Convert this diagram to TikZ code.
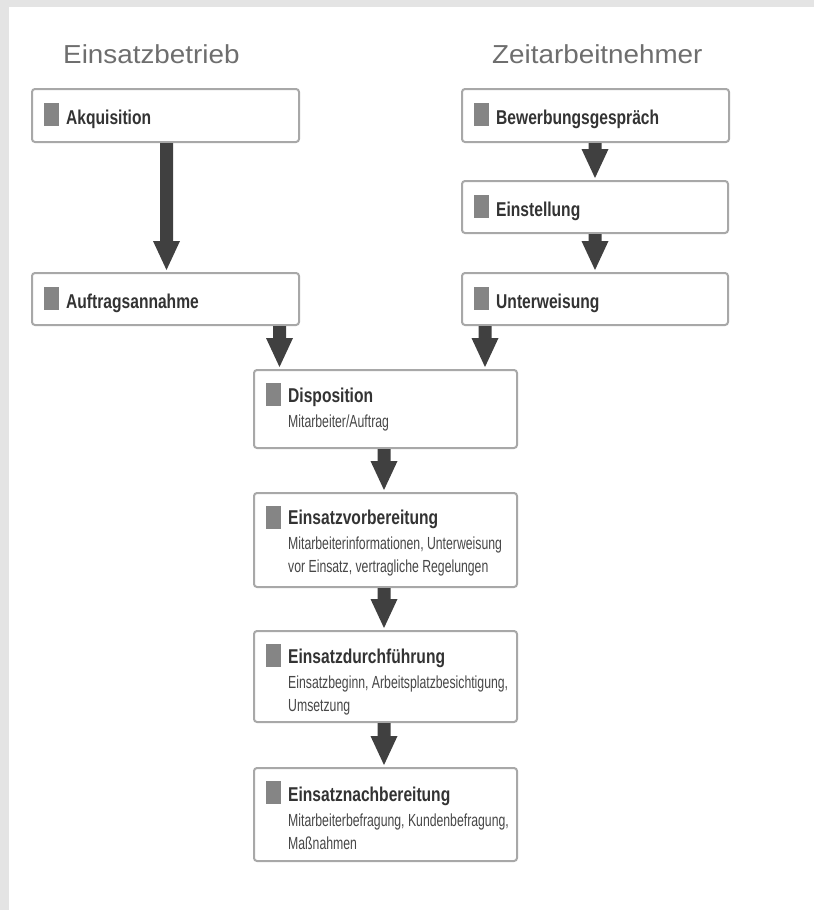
\documentclass[tikz,border=0pt]{standalone}
\usepackage{fontspec}
\setmainfont{Liberation Sans}
\newfontfamily\ttlfont[FakeStretch=0.78]{Liberation Sans}
\newfontfamily\subfont[FakeStretch=0.70]{Liberation Sans}
\newfontfamily\headfont[FakeStretch=1.07]{Liberation Sans}
\usetikzlibrary{calc}
\definecolor{bggray}{HTML}{E4E4E4}
\definecolor{boxline}{HTML}{A8A8A8}
\definecolor{arrowgray}{HTML}{404040}
\definecolor{sqgray}{HTML}{858585}
\definecolor{headgray}{HTML}{6E6E6E}
\definecolor{txtgray}{HTML}{333333}
\definecolor{subgray}{HTML}{474747}
\newcommand\fatarrow[2]{%
  \fill[arrowgray] let \p1=(#1), \p2=(#2) in
    (\x1-6.5pt,\y1-1pt) -- (\x1-6.5pt,\y2+32pt) -- (\x1-13.5pt,\y2+32pt) --
    (\x1,\y2+3pt) -- (\x1+13.5pt,\y2+32pt) -- (\x1+6.5pt,\y2+32pt) --
    (\x1+6.5pt,\y1-1pt) -- cycle;}
\begin{document}
\begin{tikzpicture}[x=1pt,y=-1pt,
  box/.style={draw=boxline, line width=2pt, rounded corners=3pt, fill=white,
    anchor=north west, inner sep=0pt, outer sep=0pt},
  ttl/.style={anchor=base west, inner sep=0pt, text=txtgray,
    font=\ttlfont\bfseries\fontsize{20}{23}\selectfont},
  sub/.style={anchor=base west, inner sep=0pt, text=subgray,
    font=\subfont\fontsize{17.5}{23}\selectfont},
  head/.style={anchor=base west, inner sep=0pt, text=headgray,
    font=\headfont\fontsize{26}{30}\selectfont},
  sq/.style={fill=sqgray}]
\useasboundingbox (0,0) rectangle (814,910);
\fill[bggray] (0,0) rectangle (814,910);
\fill[white] (9,7) rectangle (814,910);

% headings
\node[head] (hl) at (63,63) {Einsatzbetrieb};
\node[head] (hr) at (492,63) {Zeitarbeitnehmer};

% boxes
\node[box, minimum width=267pt, minimum height=53pt] (akq) at (32,89) {};
\node[box, minimum width=267pt, minimum height=52pt] (auf) at (32,273) {};
\node[box, minimum width=267pt, minimum height=53pt] (bew) at (462,89) {};
\node[box, minimum width=266pt, minimum height=52pt] (ein) at (462,181) {};
\node[box, minimum width=266pt, minimum height=52pt] (unt) at (462,273) {};
\node[box, minimum width=263pt, minimum height=78pt] (disp) at (254,370) {};
\node[box, minimum width=263pt, minimum height=94pt] (vor) at (254,493) {};
\node[box, minimum width=263pt, minimum height=91pt] (durch) at (254,631) {};
\node[box, minimum width=263pt, minimum height=93pt] (nach) at (254,768) {};

% single-line box contents
\foreach \b/\t in {akq/Akquisition, auf/Auftragsannahme, bew/Bewerbungsgespräch, ein/Einstellung, unt/Unterweisung}{
  \fill[sq] ($(\b.north west)+(12,14)$) rectangle ++(15,23);
  \node[ttl] (\b T) at ($(\b.north west)+(34,35)$) {\t};
}

% multi-line box contents
\foreach \b in {disp,vor,durch,nach}{
  \fill[sq] ($(\b.north west)+(12,13)$) rectangle ++(15,23);
}
\node[ttl] (dispT) at ($(disp.north west)+(34,32)$) {Disposition};
\node[sub] (dispS) at ($(disp.north west)+(34,57)$) {Mitarbeiter/Auftrag};

\node[ttl] (vorT) at ($(vor.north west)+(34,31)$) {Einsatzvorbereitung};
\node[sub] (vorS1) at ($(vor.north west)+(34,56)$) {Mitarbeiterinformationen, Unterweisung};
\node[sub] (vorS2) at ($(vor.north west)+(34,79)$) {vor Einsatz, vertragliche Regelungen};

\node[ttl] (durchT) at ($(durch.north west)+(34,32)$) {Einsatzdurchführung};
\node[sub] (durchS1) at ($(durch.north west)+(34,57)$) {Einsatzbeginn, Arbeitsplatzbesichtigung,};
\node[sub] (durchS2) at ($(durch.north west)+(34,80)$) {Umsetzung};

\node[ttl] (nachT) at ($(nach.north west)+(34,33)$) {Einsatznachbereitung};
\node[sub] (nachS1) at ($(nach.north west)+(34,58)$) {Mitarbeiterbefragung, Kundenbefragung,};
\node[sub] (nachS2) at ($(nach.north west)+(34,81)$) {Maßnahmen};

% arrow x positions
\coordinate (xa) at (166.5,0);
\coordinate (xb) at (595,0);
\coordinate (xc) at (279.5,0);
\coordinate (xd) at (485,0);
\coordinate (xe) at (384,0);

% arrows
\fatarrow{akq.south -| xa}{auf.north -| xa}
\fatarrow{bew.south -| xb}{ein.north -| xb}
\fatarrow{ein.south -| xb}{unt.north -| xb}
\fatarrow{auf.south -| xc}{disp.north -| xc}
\fatarrow{unt.south -| xd}{disp.north -| xd}
\fatarrow{disp.south -| xe}{vor.north -| xe}
\fatarrow{vor.south -| xe}{durch.north -| xe}
\fatarrow{durch.south -| xe}{nach.north -| xe}
\end{tikzpicture}
\end{document}
